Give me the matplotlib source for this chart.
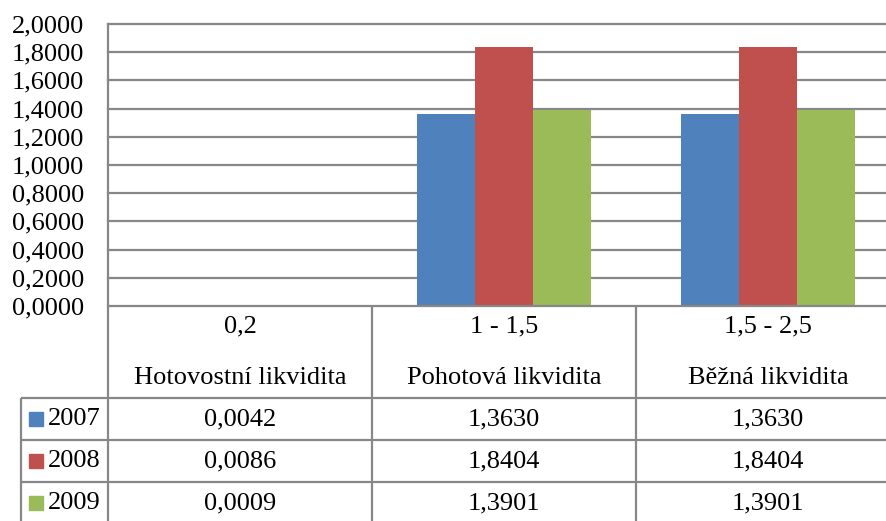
import numpy as np
import matplotlib
matplotlib.use("Agg")
import matplotlib.pyplot as plt
from matplotlib.ticker import FuncFormatter, MultipleLocator

# ---- data ----
norms = ["0,2", "1 - 1,5", "1,5 - 2,5"]
categories = ["Hotovostní likvidita", "Pohotová likvidita", "Běžná likvidita"]
years = ["2007", "2008", "2009"]
v2007 = [0.0042, 1.3630, 1.3630]
v2008 = [0.0086, 1.8404, 1.8404]
v2009 = [0.0009, 1.3901, 1.3901]
series = [v2007, v2008, v2009]
colors = ["#4F81BD", "#C0504D", "#9BBB59"]

plt.rcParams['font.family'] = ['Liberation Serif', 'DejaVu Serif']
FS = 19
GRAY = "#878787"

W, H = 886, 521
fig = plt.figure(figsize=(W / 100, H / 100), dpi=100)

# layout in pixels
L, R, T, B = 108, 900, 24, 306
catw = (R - L) / len(categories)

ax = fig.add_axes([L / W, 1 - B / H, (R - L) / W, (B - T) / H])
ax.set_xlim(-0.5, len(categories) - 0.5)
ax.set_ylim(0, 2.0)
ax.yaxis.set_major_locator(MultipleLocator(0.2))
ax.yaxis.set_major_formatter(FuncFormatter(lambda v, p: f"{v:.4f}".replace('.', ',')))
ax.tick_params(axis='y', length=0, pad=17, labelsize=FS)
ax.set_xticks([])
for s in ax.spines.values():
    s.set_visible(False)
ax.spines['left'].set_visible(True)
ax.spines['left'].set_color(GRAY)
ax.spines['left'].set_linewidth(1.6)
for yv in np.arange(0.2, 2.01, 0.2):
    ax.axhline(yv, color=GRAY, lw=1.6, zorder=0, clip_on=False)

x = np.arange(len(categories))
bw = 0.22
for i, (vals, c) in enumerate(zip(series, colors)):
    ax.bar(x + (i - 1) * bw, vals, width=bw, color=c, zorder=2)

# ---- data table ----
tax = fig.add_axes([0, 0, 1, 1])
tax.set_xlim(0, W)
tax.set_ylim(H, 0)
tax.axis('off')

hdr_bot = 398
row_h = 42
leg_left = 21
lw = 1.6

tax.plot([L, R + 10], [B, B], color=GRAY, lw=lw, solid_capstyle='butt')
tax.plot([L, L], [B, H + 5], color=GRAY, lw=lw, solid_capstyle='butt')
for i in range(1, len(categories) + 1):
    xx = L + i * catw
    tax.plot([xx, xx], [B, H + 5], color=GRAY, lw=lw, solid_capstyle='butt')
for r in range(len(years)):
    yy = hdr_bot + r * row_h
    tax.plot([leg_left, R + 10], [yy, yy], color=GRAY, lw=lw, solid_capstyle='butt')
tax.plot([leg_left, leg_left], [hdr_bot, H + 5], color=GRAY, lw=lw, solid_capstyle='butt')

for i, (n, c) in enumerate(zip(norms, categories)):
    cx = L + (i + 0.5) * catw
    tax.text(cx, 326, n, ha='center', va='center', fontsize=FS)
    tax.text(cx, 378, c, ha='center', va='center', fontsize=FS)

for r, (yr, vals, col) in enumerate(zip(years, series, colors)):
    cy = hdr_bot + (r + 0.5) * row_h
    tax.add_patch(plt.Rectangle((29, cy - 7), 14, 14, color=col))
    tax.text(48, cy, yr, ha='left', va='center', fontsize=FS)
    for i, v in enumerate(vals):
        cx = L + (i + 0.5) * catw
        tax.text(cx, cy, f"{v:.4f}".replace('.', ','), ha='center', va='center', fontsize=FS)

fig.savefig("out.png", dpi=100)
